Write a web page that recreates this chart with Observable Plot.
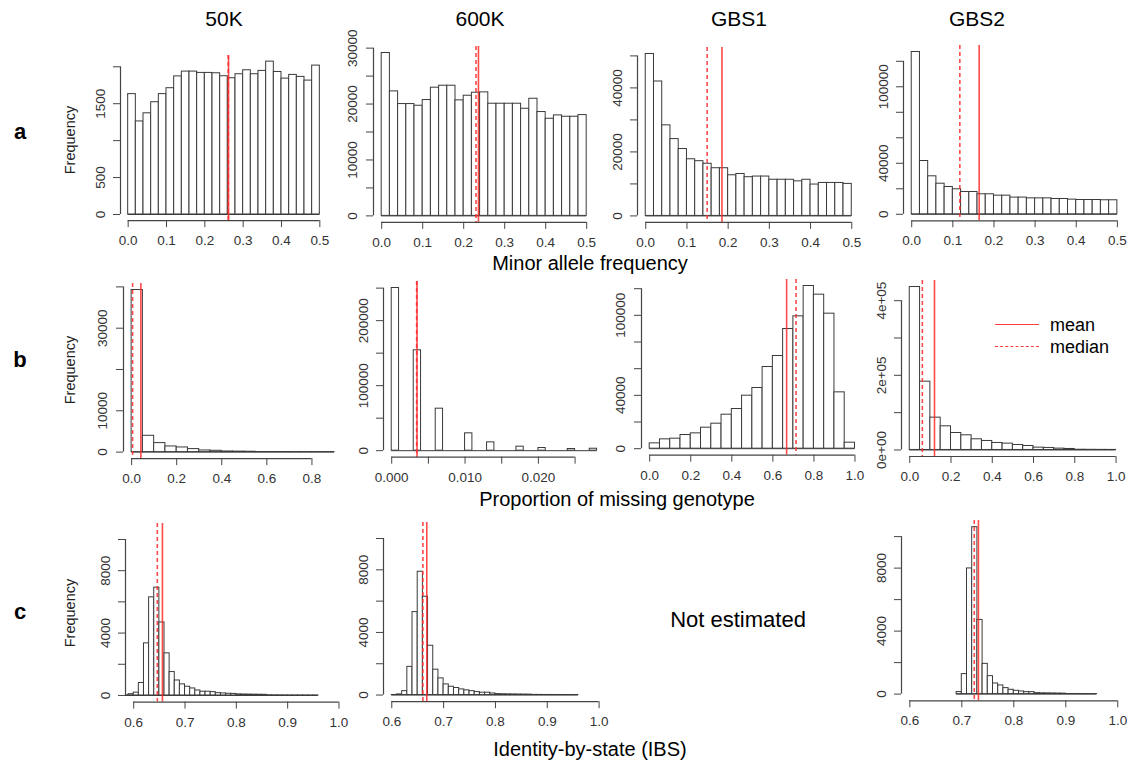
<!DOCTYPE html>
<html><head><meta charset="utf-8">
<script src="https://cdn.jsdelivr.net/npm/d3@7"></script>
<script src="https://cdn.jsdelivr.net/npm/@observablehq/plot@0.6"></script>
<style>
body{margin:0;background:#fff;font-family:"Liberation Sans",Arial,Helvetica,sans-serif;}
#fig{position:relative;width:1133px;height:763px;overflow:hidden;background:#fff;}
.t{position:absolute;white-space:nowrap;transform:translate(-50%,-50%);color:#000;line-height:1;}
.l{position:absolute;white-space:nowrap;transform:translate(0,-50%);color:#000;line-height:1;}
.panel{position:absolute;}
</style></head><body><div id="fig"></div><script>
// ---------- data ----------
const columns = ["50K", "600K", "GBS1", "GBS2"];
const rows = ["a", "b", "c"];
const xTitles = ["Minor allele frequency", "Proportion of missing genotype", "Identity-by-state (IBS)"];

// Row a: minor allele frequency, bins of 0.02 from 0
const maf50K  = [1630,1260,1370,1520,1630,1710,1870,1935,1935,1917,1917,1912,1872,1845,1899,1953,1899,1944,2070,1930,1840,1890,1863,1813,2016];
const maf600K = [29130,22270,20000,20000,19700,20720,22930,23280,23280,20660,21490,22030,22090,20060,20060,20060,20060,19160,20950,18570,17370,17970,17730,17730,18030];
const mafGBS1 = [50600,42000,28300,24000,20900,17700,17100,16300,14900,14900,12700,13100,12100,12300,12300,11300,11300,11300,10800,11300,9800,10300,10300,10300,10000];
const mafGBS2 = [127300,41800,29800,24000,21400,19600,17500,17500,15700,15700,14600,14600,13100,13100,12500,12500,12500,12000,12000,11500,11200,11200,11200,11000,11000];

// Row b: proportion of missing genotype
const miss50K  = [39250,3950,2180,1370,1130,730,400,320,150,120,90,20,15,10,8,6,4,3];          // bins 0.05 from 0
const miss600K = [250200,0,0,154400,0,0,64600,0,0,0,26700,0,0,12800,0,0,0,6150,0,0,4100,0,0,0,2560,0,0,3000]; // bins 0.001 from 0
const missGBS1 = [4000,7000,7500,10250,11500,15750,18750,25500,29750,39750,45500,61250,69500,89750,99250,122000,115500,101250,42250,4500]; // bins 0.05
const missGBS2 = [436600,183000,86600,63400,45500,39300,28600,24100,18750,17000,13400,10700,6250,5400,3600,2700,600,400,250,150];        // bins 0.05

// Row c: identity-by-state, bins 0.01
const ibs50K  = [10,80,180,800,3340,6290,6910,4680,2700,1500,960,710,560,450,320,240,240,215,150,130,110,100,70,60,55,50,45,40,15,10,8,6,5,4,3,3,2,2]; // from 0.58
const ibs600K = [5,40,250,1800,5300,7880,6280,3150,1620,1065,680,530,450,360,300,250,190,150,150,100,60,50,45,40,35,30,25,10,8,6,5,4,3,3,2,2];       // from 0.60
const ibsGBS2 = [130,1270,7980,10600,4710,1920,1140,675,550,380,275,210,170,125,125,60,50,45,40,35,30,8,6,5,4,3,2];                                // from 0.69

// means / medians
const means   = {a1:0.262, a2:0.236, a3:0.185, a4:0.164, b1:0.041, b2:0.00345, b3:0.667, b4:0.120, c1:0.656, c2:0.6675, c4:0.732};
const medians = {a1:0.261, a2:0.230, a3:0.149, a4:0.117, b1:0.0044, b2:0.0034, b3:0.713, b4:0.061, c1:0.646, c2:0.660, c4:0.724};

// tick values
const xTicksMaf = [0,0.1,0.2,0.3,0.4,0.5];
const xTicksMiss50K = [0,0.2,0.4,0.6,0.8];
const xTicksMiss600K = [0,0.005,0.01,0.015,0.02,0.025];
const xLabMiss600K = [0,0.01,0.02];
const xTicksMiss = [0,0.2,0.4,0.6,0.8,1];
const xTicksIbs = [0.6,0.7,0.8,0.9,1.0];
const yTicks = {
  a1:[0,500,1000,1500,2000], a2:[0,5000,10000,15000,20000,25000,30000], a3:[0,10000,20000,30000,40000,50000], a4:[0,20000,40000,60000,80000,100000,120000],
  b1:[0,10000,20000,30000,40000], b2:[0,50000,100000,150000,200000,250000], b3:[0,20000,40000,60000,80000,100000,120000], b4:[0,100000,200000,300000,400000],
  c1:[0,2000,4000,6000,8000,10000], c2:[0,2000,4000,6000,8000,10000], c4:[0,2000,4000,6000,8000,10000]
};
const yLabels = {
  a1:[0,500,1500], a2:[0,10000,20000,30000], a3:[0,20000,40000], a4:[0,40000,100000],
  b1:[0,10000,30000], b2:[0,100000,200000], b3:[0,40000,100000], b4:[0,200000,400000],
  c1:[0,4000,8000], c2:[0,4000,8000], c4:[0,4000,8000]
};

// ---------- panel specs ----------
const specs = [
  {id:"a1", counts:maf50K,  start:0, step:0.02, xlim:[0,0.5], xt:xTicksMaf, xf:d=>d.toFixed(1)},
  {id:"a2", counts:maf600K, start:0, step:0.02, xlim:[0,0.5], xt:xTicksMaf, xf:d=>d.toFixed(1)},
  {id:"a3", counts:mafGBS1, start:0, step:0.02, xlim:[0,0.5], xt:xTicksMaf, xf:d=>d.toFixed(1)},
  {id:"a4", counts:mafGBS2, start:0, step:0.02, xlim:[0,0.5], xt:xTicksMaf, xf:d=>d.toFixed(1)},
  {id:"b1", counts:miss50K, start:0, step:0.05, xlim:[0,0.9], xt:xTicksMiss50K, xf:d=>d.toFixed(1)},
  {id:"b2", counts:miss600K, start:0, step:0.001, xlim:[0,0.028], xt:xTicksMiss600K, xf:d=>xLabMiss600K.some(v=>Math.abs(v-d)<1e-9)?d.toFixed(3):""},
  {id:"b3", counts:missGBS1, start:0, step:0.05, xlim:[0,1], xt:xTicksMiss, xf:d=>d.toFixed(1)},
  {id:"b4", counts:missGBS2, start:0, step:0.05, xlim:[0,1], xt:xTicksMiss, xf:d=>d.toFixed(1), yf:d=>d.toExponential(0).replace(/e\+(\d)$/,"e+0$1")},
  {id:"c1", counts:ibs50K,  start:0.58, step:0.01, xlim:[0.6,1.0], xt:xTicksIbs, xf:d=>d.toFixed(1), ymax:10600},
  {id:"c2", counts:ibs600K, start:0.60, step:0.01, xlim:[0.6,1.0], xt:xTicksIbs, xf:d=>d.toFixed(1), ymax:10600},
  {id:"c4", counts:ibsGBS2, start:0.69, step:0.01, xlim:[0.6,1.0], xt:xTicksIbs, xf:d=>d.toFixed(1), ymax:10600}
];

// ---------- layout (plot-region frames in page pixels) ----------
const frames = {
  a1:{left:120.3, top:55.0,  width:207.0, height:165.1},
  a2:{left:372.8, top:45.9,  width:221.4, height:175.9},
  a3:{left:636.5, top:46.9,  width:222.5, height:174.9},
  a4:{left:902.8, top:45.2,  width:222.1, height:175.3},
  b1:{left:122.9, top:282.7, width:219.1, height:175.1},
  b2:{left:382.5, top:281.1, width:221.8, height:175.7},
  b3:{left:640.5, top:279.1, width:221.7, height:175.7},
  b4:{left:901.0, top:279.5, width:222.8, height:176.0},
  c1:{left:124.5, top:523.3, width:221.7, height:178.6},
  c2:{left:383.0, top:521.5, width:223.9, height:179.2},
  c4:{left:901.0, top:520.1, width:224.6, height:180.3}
};
const ML = 50, MR = 10, MT = 30, MB = 40;
const RED = "#ff2a2a", BAR = "#3a3a3a", AX = "#444";

const fig = document.getElementById("fig");

for (const s of specs) {
  const f = frames[s.id];
  const bins = s.counts.map((c, i) => ({x1: s.start + i * s.step, x2: s.start + (i + 1) * s.step, count: c}));
  const M = s.ymax ?? d3.max(s.counts);
  const [lo, hi] = s.xlim;
  const ext = 0.04 * (hi - lo);
  const xd = [lo - ext, hi + ext];
  const yd = [-0.04 * M, 1.04 * M];
  const yt = yTicks[s.id], yl = yLabels[s.id];
  const yf = s.yf ?? (d => String(d));
  const chart = Plot.plot({
    width: f.width + ML + MR,
    height: f.height + MT + MB,
    marginLeft: ML, marginRight: MR, marginTop: MT, marginBottom: MB,
    x: {domain: xd},
    y: {domain: yd},
    style: {fontFamily: '"Liberation Sans", Arial, Helvetica, sans-serif', fontSize: "13.5px", background: "transparent", overflow: "visible", color: "#333"},
    marks: [
      Plot.ruleY([{y: 0, a: bins[0].x1, b: bins[bins.length - 1].x2}], {y: "y", x1: "a", x2: "b", stroke: BAR, strokeWidth: 1, clip: true}),
      Plot.rectY(bins, {x1: "x1", x2: "x2", y1: 0, y2: "count", fill: "white", stroke: BAR, strokeWidth: 1, clip: true}),
      Plot.ruleX([medians[s.id]], {stroke: RED, strokeWidth: 1.6, strokeOpacity: 0.85, strokeDasharray: "4,3"}),
      Plot.ruleX([means[s.id]], {stroke: RED, strokeWidth: 1.6, strokeOpacity: 0.85}),
      Plot.ruleY([{y: yd[0], a: s.xt[0], b: s.xt[s.xt.length - 1]}], {y: "y", x1: "a", x2: "b", stroke: AX, strokeWidth: 1.2}),
      Plot.ruleX([{x: xd[0], a: yt[0], b: yt[yt.length - 1]}], {x: "x", y1: "a", y2: "b", stroke: AX, strokeWidth: 1.2}),
      Plot.axisX({ticks: s.xt, tickSize: 7, tickPadding: 8, tickFormat: s.xf, label: null, stroke: AX}),
      Plot.axisY({ticks: yt, tickSize: 7, tickPadding: 9, tickRotate: -90, label: null, stroke: AX,
        tickFormat: d => yl.includes(d) ? yf(d) : ""})
    ]
  });
  chart.classList.add("panel");
  chart.style.left = (f.left - ML) + "px";
  chart.style.top = (f.top - MT) + "px";
  chart.style.maxWidth = "none";
  fig.appendChild(chart);
}

// ---------- text ----------
function addText(txt, x, y, css, cls = "t") {
  const d = document.createElement("div");
  d.className = cls;
  d.textContent = txt;
  d.style.left = x + "px";
  d.style.top = y + "px";
  Object.assign(d.style, css);
  fig.appendChild(d);
  return d;
}
const headerX = [224, 480, 739, 977];
columns.forEach((c, i) => addText(c, headerX[i], 18, {fontSize: "21px"}));
const rowY = [132, 360, 612];
rows.forEach((r, i) => addText(r, 20, rowY[i], {fontSize: "22px", fontWeight: "bold"}));
const freqY = [140, 370, 613];
freqY.forEach(y => addText("Frequency", 70, y, {fontSize: "14.5px", transform: "translate(-50%,-50%) rotate(-90deg)", color: "#222"}));
addText(xTitles[0], 590, 263, {fontSize: "20px"});
addText(xTitles[1], 617, 499, {fontSize: "20px"});
addText(xTitles[2], 590, 749, {fontSize: "20px"});
addText("Not estimated", 738, 620, {fontSize: "22px"});

// legend
const legend = [{label: "mean", y: 325, dash: "solid"}, {label: "median", y: 347, dash: "dashed"}];
for (const g of legend) {
  const ln = document.createElement("div");
  ln.style.cssText = `position:absolute;left:995px;top:${g.y - 1}px;width:44px;height:0;border-top:1.6px ${g.dash} ${RED};opacity:0.9`;
  fig.appendChild(ln);
  addText(g.label, 1050, g.y, {fontSize: "18px"}, "l");
}
</script></body></html>
